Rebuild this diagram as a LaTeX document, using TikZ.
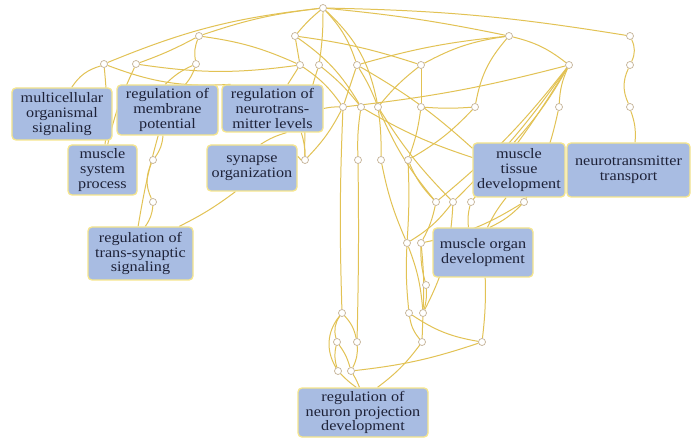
\documentclass[tikz,border=0pt]{standalone}
\usepackage{fontspec}
\setmainfont{Liberation Serif}[FakeStretch=1.12]
\usetikzlibrary{backgrounds}
\definecolor{edgeC}{RGB}{226,194,84}
\definecolor{boxFill}{RGB}{168,188,226}
\definecolor{boxLine}{RGB}{246,230,140}
\definecolor{termText}{RGB}{30,34,56}
\definecolor{dotLine}{RGB}{196,178,150}
\tikzset{
  term/.style={draw=boxLine, line width=1.3pt, fill=boxFill, rounded corners=4pt,
    text=termText, align=center, inner sep=0pt,
    font=\fontsize{14.5}{15}\selectfont},
  dot/.style={circle, draw=dotLine, fill=white, line width=0.7pt,
    minimum size=7bp, inner sep=0pt},
  link/.style={draw=edgeC, line width=1pt},
}
\begin{document}
\begin{tikzpicture}[x=1bp, y=1bp]
\useasboundingbox (0,0) rectangle (697,-441);

% small connector points
\node[dot] (R)  at (323,-8) {};
\node[dot] (a1) at (199,-36) {};
\node[dot] (a2) at (295,-36) {};
\node[dot] (a3) at (509,-36) {};
\node[dot] (a4) at (630,-36) {};
\node[dot] (b1) at (104,-64) {};
\node[dot] (b2) at (136,-64) {};
\node[dot] (b3) at (196,-64) {};
\node[dot] (b4) at (300,-65) {};
\node[dot] (b5) at (319,-65) {};
\node[dot] (b6) at (357,-65) {};
\node[dot] (b7) at (421,-65) {};
\node[dot] (H)  at (569,-65) {};
\node[dot] (c4) at (630,-65) {};
\node[dot] (c1) at (343,-107) {};
\node[dot] (c2) at (361,-107) {};
\node[dot] (c3) at (378,-107) {};
\node[dot] (c5) at (421,-107) {};
\node[dot] (c6) at (475,-107) {};
\node[dot] (c7) at (559,-107) {};
\node[dot] (c8) at (630,-107) {};
\node[dot] (d1) at (153,-160) {};
\node[dot] (d2) at (305,-160) {};
\node[dot] (d3) at (358,-160) {};
\node[dot] (d4) at (381,-160) {};
\node[dot] (d5) at (408,-160) {};
\node[dot] (e1) at (153,-202) {};
\node[dot] (e2) at (436,-202) {};
\node[dot] (e3) at (453,-202) {};
\node[dot] (e4) at (471,-202) {};
\node[dot] (e5) at (524,-202) {};
\node[dot] (f1) at (407,-243) {};
\node[dot] (f2) at (421,-243) {};
\node[dot] (g1) at (426,-285) {};
\node[dot] (h1) at (342,-313) {};
\node[dot] (h2) at (409,-313) {};
\node[dot] (h3) at (423,-313) {};
\node[dot] (i1) at (337,-342) {};
\node[dot] (i2) at (357,-342) {};
\node[dot] (i3) at (422,-342) {};
\node[dot] (i4) at (482,-342) {};
\node[dot] (j1) at (338,-371) {};
\node[dot] (j2) at (351,-371) {};

% GO term boxes
\node[term, minimum width=100bp, minimum height=52bp] (MOS) at (62,-114) {multicellular\\organismal\\signaling};
\node[term, minimum width=69bp, minimum height=50bp] (MSP) at (102.5,-170) {muscle\\system\\process};
\node[term, minimum width=101bp, minimum height=50bp] (RMP) at (167.5,-110) {regulation of\\membrane\\potential};
\node[term, minimum width=101bp, minimum height=47bp] (RNL) at (272.5,-108.5) {regulation of\\neurotrans-\\mitter levels};
\node[term, minimum width=90bp, minimum height=46bp] (SO) at (252,-168) {synapse\\organization};
\node[term, minimum width=105bp, minimum height=53bp] (RTS) at (140.5,-253.5) {regulation of\\trans-synaptic\\signaling};
\node[term, minimum width=92bp, minimum height=54bp] (MTD) at (519,-170) {muscle\\tissue\\development};
\node[term, minimum width=123bp, minimum height=54bp] (NT) at (628.5,-170) {neurotransmitter\\transport};
\node[term, minimum width=100bp, minimum height=49bp] (MOD) at (483,-252.5) {muscle organ\\development};
\node[term, minimum width=130bp, minimum height=49bp] (RNP) at (363,-412.5) {regulation of\\neuron projection\\development};

\begin{scope}[on background layer]
\fill[white] (0,0) rectangle (697,-441);
% from the root
\draw[link] (R) to[bend right=6] (a1);
\draw[link] (R) to[bend right=8] (b1);
\draw[link] (R) to[bend right=5] (a2);
\draw[link] (R) to[bend left=4] (b5);
\draw[link] (R) to[bend left=12] (b6);
\draw[link] (R) to[bend left=18] (c3);
\draw[link] (R) to[bend left=3] (a3);
\draw[link] (R) to[bend left=4] (a4);
% upper left
\draw[link] (a1) to[bend left=4] (b2);
\draw[link] (a1) to[bend right=15] (b3);
\draw[link] (a1) to[bend left=8] (b4);
\draw[link] (b1) to[bend right=20] (MOS);
\draw[link] (b1) to[bend left=5] (MSP);
\draw[link] (b2) to[bend right=6] (MSP);
\draw[link] (b2) to[bend right=8] (b4);
\draw[link] (b1) to[bend right=12] (RNL.150);
\draw[link] (b3) to[bend right=10] (RMP.95);
\draw[link] (b3) to[bend left=10] (RMP.55);
\draw[link] (a2) to (b4);
\draw[link] (a2) to[bend left=5] (b7);
\draw[link] (a2) to[bend left=12] (c2);
\draw[link] (b4) to (RNL);
\draw[link] (b4) to[bend left=10] (c1);
\draw[link] (b5) to[bend left=6] (c2);
\draw[link] (b5) to[bend right=10] (d2);
\draw[link] (b6) to (c1);
\draw[link] (b6) to[bend left=5] (c3);
\draw[link] (b6) to[bend left=6] (MTD.155);
\draw[link] (b7) to (c5);
\draw[link] (b7) to[bend right=6] (c3);
\draw[link] (b7) to[bend left=10] (a3);
\draw[link] (a3) to[bend right=5] (b6);
\draw[link] (a3) to[bend left=12] (H);
\draw[link] (a3) to[bend right=15] (c6);
% hub on the right
\draw[link] (H) to[bend left=4] (c1);
\draw[link] (H) to[bend left=6] (e2);
\draw[link] (H) to[bend left=5] (e3);
\draw[link] (H) to[bend left=4] (e4);
\draw[link] (H) to[bend left=6] (MTD.100);
\draw[link] (H) to[bend right=10] (c7);
\draw[link] (c7) to[bend left=8] (e5);
\draw[link] (a4) to[bend left=25] (c4);
\draw[link] (c4) to[bend right=25] (c8);
\draw[link] (c8) to[bend left=12] (NT);
% middle rows
\draw[link] (c1) to[bend left=8] (d2);
\draw[link] (c1) to[bend right=2] (h1);
\draw[link] (c2) to[bend right=5] (d3);
\draw[link] (c3) to[bend left=4] (d4);
\draw[link] (c5) to[bend left=6] (d5);
\draw[link] (c5) to[bend right=4] (c6);
\draw[link] (c6) to[bend left=8] (d5);
\draw[link] (c2) to[bend right=6] (MTD.165);
\draw[link] (c3) to[bend right=8] (e2);
\draw[link] (c3) to[bend right=6] (e3);
\draw[link] (RNL.east) to[bend left=6] (c1);
\draw[link] (d2) to[bend right=6] (SO);
\draw[link] (RNL.300) to[bend right=8] (SO.70);
\draw[link] (RNL.320) to[bend left=8] (d2);
% left lower branch
\draw[link] (RMP.260) to[bend left=15] (d1);
\draw[link] (d1) to[bend right=25] (e1);
\draw[link] (e1) to[bend left=15] (RTS.80);
\draw[link] (RMP.250) to[bend right=3] (RTS.95);
\draw[link] (SO.235) to[bend left=5] (RTS.35);
% down to the lower right
\draw[link] (d3) to[bend left=1] (i2);
\draw[link] (d4) to[bend right=6] (f1);
\draw[link] (d5) to[bend left=3] (f1);
\draw[link] (d5) to[bend right=10] (e2);
\draw[link] (e2) to[bend left=8] (f2);
\draw[link] (e3) to[bend left=10] (f1);
\draw[link] (e3) to[bend left=12] (h3);
\draw[link] (e4) to[bend right=10] (MOD.120);
\draw[link] (e5) to[bend left=10] (MOD.75);
\draw[link] (MTD.245) to[bend right=6] (MOD.80);
\draw[link] (e5) to[bend left=10] (f2);
\draw[link] (f1) to[bend right=4] (h2);
\draw[link] (f2) to[bend left=4] (h3);
\draw[link] (f2) to[bend right=8] (g1);
\draw[link] (g1) to[bend left=10] (h3);
\draw[link] (f1) to[bend left=8] (h3);
\draw[link] (h2) to[bend right=15] (i3);
\draw[link] (h3) to (i3);
\draw[link] (h2) to[bend right=12] (i4);
\draw[link] (i3) to[bend left=8] (RNP.60);
\draw[link] (MOD.275) to[bend left=4] (i4);
\draw[link] (i4) to[bend left=6] (j2);
\draw[link] (h1) to[bend right=25] (i1);
\draw[link] (h1) to[bend left=15] (i2);
\draw[link] (h1) to[bend right=35] (j1);
\draw[link] (i1) to[bend right=15] (j1);
\draw[link] (i1) to[bend left=10] (j2);
\draw[link] (i2) to[bend left=15] (j2);
\draw[link] (j1) to[bend right=5] (RNP.105);
\draw[link] (j2) to[bend left=5] (RNP.98);
\end{scope}
\end{tikzpicture}
\end{document}
